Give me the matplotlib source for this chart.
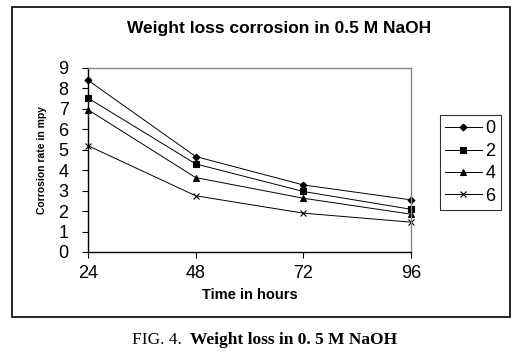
import matplotlib
matplotlib.use("Agg")
import matplotlib.pyplot as plt
from matplotlib.patches import Rectangle

hours = [24, 48, 72, 96]
labels = ["0", "2", "4", "6"]
rate_0 = [8.4, 4.67, 3.28, 2.55]
rate_2 = [7.53, 4.31, 2.96, 2.09]
rate_4 = [6.96, 3.64, 2.63, 1.85]
rate_6 = [5.2, 2.75, 1.9, 1.46]
yticks = list(range(0, 10))

W, H = 517, 360
fig = plt.figure(figsize=(W / 100, H / 100), dpi=100)
plt.rcParams["font.family"] = ["Liberation Sans", "DejaVu Sans"]


def fx(px):
    return px / W


def fy(py):
    return 1 - py / H


# outer chart border
fig.patches.append(Rectangle((fx(12), fy(317)), fx(510) - fx(12), fy(7) - fy(317),
                             transform=fig.transFigure, fill=False,
                             edgecolor="black", linewidth=1.2))

ax = fig.add_axes([fx(88), fy(252), fx(411) - fx(88), fy(68) - fy(252)])
styles = [("D", 3.5), ("s", 5), ("^", 5), ("x", 4.5)]
for vals, lab, (m, ms) in zip([rate_0, rate_2, rate_4, rate_6], labels, styles):
    ax.plot(hours, vals, color="black", linewidth=0.7, marker=m, markersize=ms,
            markeredgewidth=0.8, label=lab, clip_on=False)

ax.set_xlim(24, 96)
ax.set_ylim(0, 9)
ax.set_xticks(hours)
ax.set_yticks(yticks)
ax.tick_params(axis="both", direction="out", length=4, width=0.8, labelsize=13, pad=5)
ax.tick_params(axis="y", pad=10)
for side in ["left", "bottom"]:
    ax.spines[side].set_color("black")
    ax.spines[side].set_linewidth(1.0)
for side in ["right", "top"]:
    ax.spines[side].set_color("#888888")
    ax.spines[side].set_linewidth(1.0)
ax.set_xlabel("Time in hours", fontsize=10.5, fontweight="bold", labelpad=5)
ax.set_ylabel("Corrosion rate in mpy", fontsize=7.5, fontweight="bold", labelpad=8)

leg = fig.legend(loc="upper left", bbox_to_anchor=(fx(440), fy(115)), frameon=True,
                 fancybox=False, edgecolor="black", fontsize=13, handlelength=2.0,
                 labelspacing=0.3, borderpad=0.3, handletextpad=0.2, borderaxespad=0)
leg.get_frame().set_linewidth(0.8)

fig.text(fx(279), fy(28), "Weight loss corrosion in 0.5 M NaOH", ha="center", va="center",
         fontsize=12.5, fontweight="bold")

fig.text(fx(132), fy(340), "FIG. 4. ", ha="left", va="center", fontsize=12.5,
         family="Liberation Serif")
fig.text(fx(190), fy(340), "Weight loss in 0. 5 M NaOH", ha="left", va="center",
         fontsize=12.5, fontweight="bold", family="Liberation Serif")

fig.savefig("out.png", dpi=100)
